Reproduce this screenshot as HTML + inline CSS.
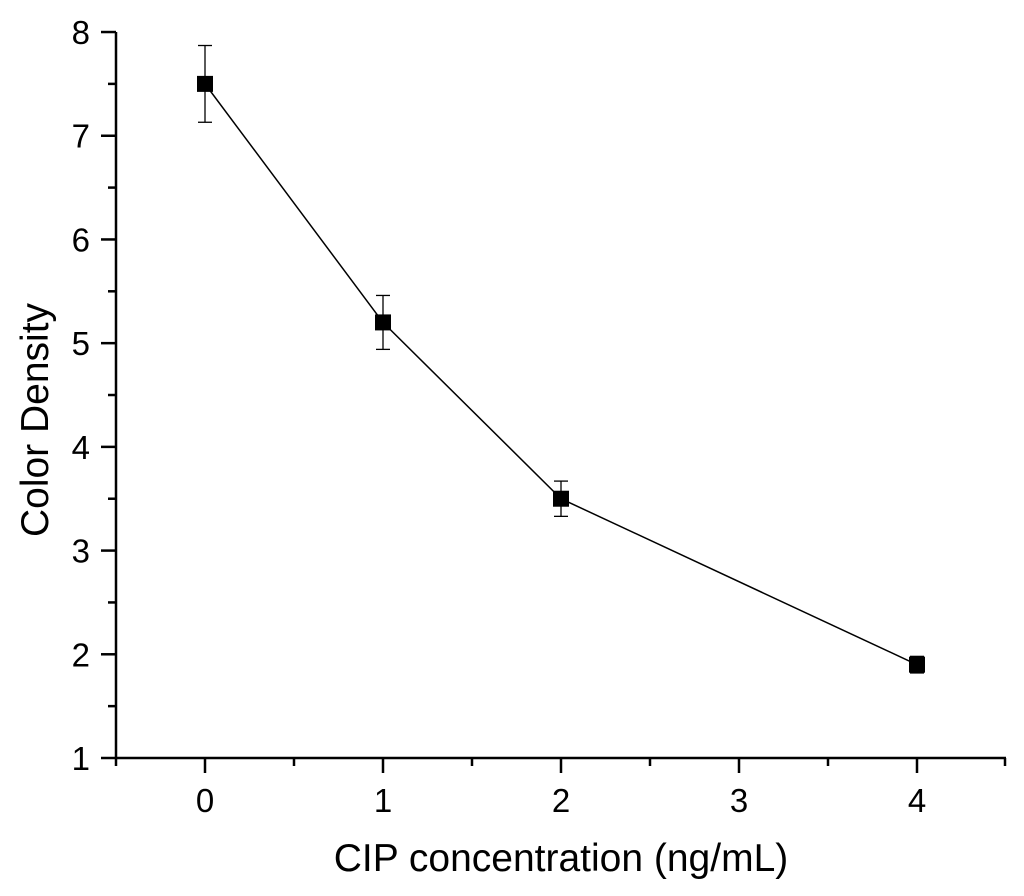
<!DOCTYPE html>
<html><head><meta charset="utf-8"><style>
html,body{margin:0;padding:0;background:#fff}
svg{display:block;font-family:"Liberation Sans",Arial,sans-serif}
</style></head><body>
<svg id="chart" width="1024" height="896">
<g id="axes"></g><g id="series"></g>
<text x="561" y="871" style="font-size:39px" text-anchor="middle">CIP concentration (ng/mL)</text>
<text transform="translate(48,420) rotate(-90)" style="font-size:39px" text-anchor="middle">Color Density</text>
</svg>
<script>
const xValues=[0,1,2,4];
const yValues=[7.5,5.2,3.5,1.9];
const yErrors=[0.37,0.26,0.17,0.08];
const xTickLabels=["0","1","2","3","4"];
const yTickLabels=["1","2","3","4","5","6","7","8"];
const NS="http://www.w3.org/2000/svg";
const X=v=>116+(v+0.5)*178;
const Y=v=>758-(v-1)*103.71;
function mk(t,a,p){const e=document.createElementNS(NS,t);for(const k in a)e.setAttribute(k,a[k]);p.appendChild(e);return e;}
const ax=document.getElementById('axes'),se=document.getElementById('series');
let l=mk('line',{x1:116,y1:32,x2:116,y2:759,stroke:'#000','stroke-width':2.5},ax);


l=mk('line',{x1:115,y1:758,x2:1006,y2:758,stroke:'#000','stroke-width':2.5},ax);


yTickLabels.forEach(s=>{const v=+s;const y=Y(v);
 mk('line',{x1:101,y1:y,x2:116,y2:y,stroke:'#000','stroke-width':2.5},ax);
 if(v<8){const ym=Y(v+0.5);mk('line',{x1:108,y1:ym,x2:116,y2:ym,stroke:'#000','stroke-width':2.5},ax);}
 const t=mk('text',{x:90,y:y+12,style:'font-size:33px','text-anchor':'end'},ax);t.textContent=s;
 
 
});
xTickLabels.forEach(s=>{const v=+s;const x=X(v);
 mk('line',{x1:x,y1:758,x2:x,y2:773,stroke:'#000','stroke-width':2.5},ax);
 if(v>0||true){mk('line',{x1:X(v-0.5),y1:758,x2:X(v-0.5),y2:766,stroke:'#000','stroke-width':2.5},ax);}
 const t=mk('text',{x:x,y:812,style:'font-size:33px','text-anchor':'middle'},ax);t.textContent=s;
 
 
});
mk('line',{x1:X(4.5)-1,y1:758,x2:X(4.5)-1,y2:766,stroke:'#000','stroke-width':2.5},ax);
const pl=mk('polyline',{points:xValues.map((x,i)=>X(x)+','+Y(yValues[i])).join(' '),fill:'none',stroke:'#000','stroke-width':1.5},se);


xValues.forEach((x,i)=>{const cx=X(x),cy=Y(yValues[i]),t=Y(yValues[i]+yErrors[i]),b=Y(yValues[i]-yErrors[i]);
 const g=mk('g',{},se);
 
 
 mk('line',{x1:cx,y1:t,x2:cx,y2:b,stroke:'#000','stroke-width':1.3},g);
 mk('line',{x1:cx-7,y1:t,x2:cx+7,y2:t,stroke:'#000','stroke-width':1.3},g);
 mk('line',{x1:cx-7,y1:b,x2:cx+7,y2:b,stroke:'#000','stroke-width':1.3},g);
 const r=mk('rect',{x:cx-8,y:cy-8,width:16,height:16,fill:'#000'},se);
 
 
});
</script>
</body></html>
